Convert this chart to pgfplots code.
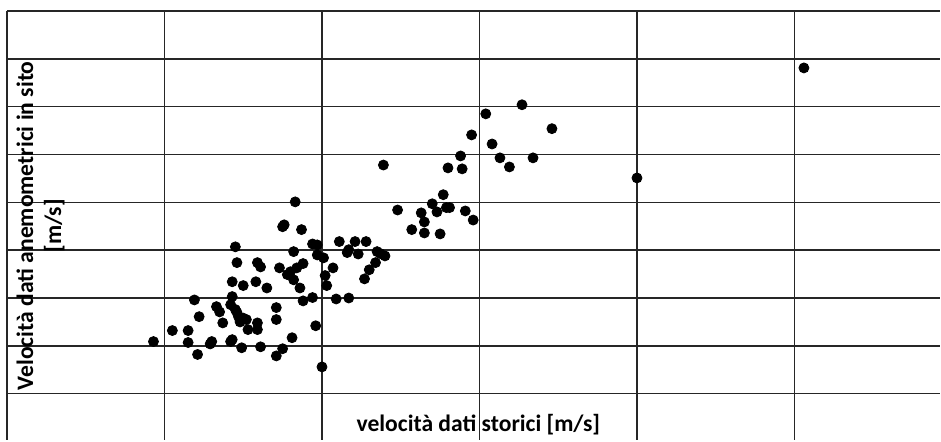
\documentclass[border=0pt]{standalone}
\usepackage{pgfplots}
\pgfplotsset{compat=1.18}
\usepackage{fontspec}
\setmainfont{Carlito}
\begin{document}
\begin{tikzpicture}
\begin{axis}[
  scale only axis,
  width=467pt, height=214.5pt,
  xmin=0, xmax=5.926, ymin=0.039, ymax=9,
  axis lines=none,
  clip=false,
]
\draw[black!85, line width=0.7pt] (axis cs:0,0.039) -- (axis cs:0,9);
\draw[black!85, line width=0.7pt] (axis cs:0,9) -- (axis cs:5.926,9);
\foreach \xx in {1,2,3,4,5} {\edef\tmp{\noexpand\draw[black!85, line width=0.7pt] (axis cs:\xx,0.039) -- (axis cs:\xx,9);}\tmp}
\foreach \yy in {1,2,3,4,5,6,7,8} {\edef\tmp{\noexpand\draw[black!85, line width=0.7pt] (axis cs:0,\yy) -- (axis cs:5.926,\yy);}\tmp}
\addplot[only marks, mark=*, mark size=2.5pt, black] coordinates {
(0.93,2.09) (1.05,2.32) (1.15,2.32) (1.15,2.07) (1.21,1.82) (1.22,2.61)
(1.19,2.96) (1.29,2.04) (1.30,2.09) (1.33,2.82) (1.35,2.71) (1.37,2.48)
(1.42,2.86) (1.43,3.03) (1.45,2.76) (1.47,2.61) (1.48,2.50) (1.52,2.55)
(1.53,2.34) (1.42,2.09) (1.43,2.13) (1.49,1.96) (1.59,2.48) (1.59,2.34)
(1.61,1.98) (1.71,2.80) (1.71,2.55) (1.81,2.17) (1.75,1.94) (1.71,1.79)
(1.43,3.34) (1.50,3.26) (1.58,3.34) (1.65,3.21) (1.46,3.74) (1.59,3.74)
(1.61,3.65) (1.73,3.63) (1.45,4.07) (1.75,4.49) (1.76,4.53) (1.87,4.43)
(1.83,5.01) (1.82,3.97) (1.78,3.49) (1.80,3.55) (1.82,3.38) (1.84,3.63)
(1.88,3.72) (1.86,3.21) (1.88,2.94) (1.94,3.01) (1.94,4.13) (1.97,4.11)
(1.97,3.90) (2.01,3.84) (1.96,2.42) (2.00,1.56) (2.02,3.47) (2.07,3.63)
(2.03,3.26) (2.09,2.98) (2.17,3.00) (2.11,4.18) (2.21,4.18) (2.28,4.18)
(2.16,3.95) (2.17,4.01) (2.23,3.92) (2.35,3.97) (2.37,3.93) (2.40,3.88)
(2.34,3.74) (2.30,3.59) (2.27,3.40) (2.39,5.78) (2.48,4.84) (2.57,4.43)
(2.63,4.78) (2.65,4.59) (2.65,4.36) (2.75,4.34) (2.70,4.97) (2.73,4.80)
(2.77,5.16) (2.79,4.89) (2.81,4.89) (2.80,5.72) (2.88,5.97) (2.89,5.70)
(2.91,4.82) (2.96,4.63) (2.95,6.41) (3.04,6.85) (3.08,6.22) (3.13,5.93)
(3.19,5.74) (3.27,7.04) (3.34,5.93) (3.46,6.54) (4.00,5.51) (5.06,7.81)
(1.46,2.70) (1.50,2.58)
};
\node[anchor=base, font=\bfseries\fontsize{11.8}{14}\selectfont] at (axis description cs:0.505,0.019) {velocità dati storici [m/s]};
\node[anchor=center, rotate=90, align=center, font=\bfseries\fontsize{11.8}{14}\selectfont] at (axis description cs:0.036,0.499) {Velocità dati anemometrici in sito\\{}[m/s]};
\end{axis}
\path (current axis.north west) ++(-3.5pt,5.5pt) coordinate (tl);
\path (current axis.south east) coordinate (br);
\useasboundingbox (tl) rectangle (br);
\end{tikzpicture}
\end{document}
